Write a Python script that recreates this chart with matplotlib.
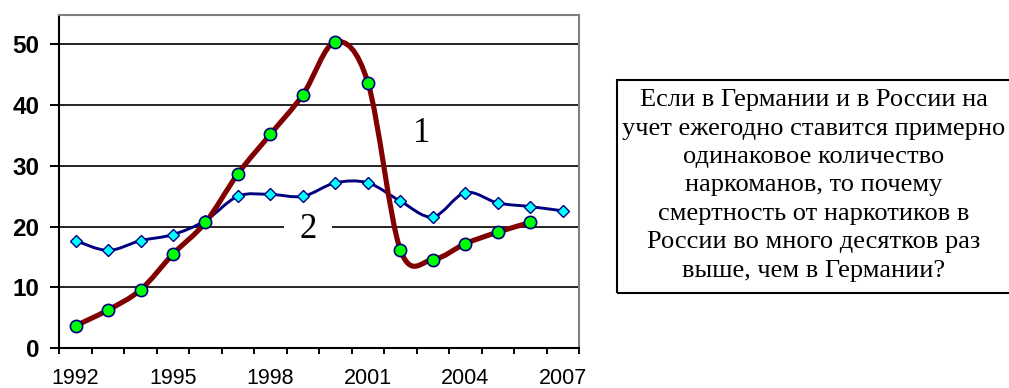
import numpy as np
import matplotlib
matplotlib.use('Agg')
import matplotlib.pyplot as plt
from matplotlib.path import Path
from matplotlib.patches import PathPatch, Rectangle

# годы и значения двух рядов
years = [str(y) for y in range(1992, 2008)]
russia = [3.7, 6.3, 9.6, 15.5, 20.7, 28.7, 35.2, 41.7, 50.4, 43.7, 16.2, 14.6, 17.2, 19.1, 20.7]
germany = [17.7, 16.1, 17.7, 18.7, 21.0, 25.0, 25.3, 25.0, 27.2, 27.2, 24.2, 21.6, 25.6, 23.9, 23.3, 22.6]
shown_years = ['1992', '1995', '1998', '2001', '2004', '2007']
y_ticks = [0, 10, 20, 30, 40, 50]

note_lines = [
    'Если в Германии и в России на',
    'учет ежегодно ставится примерно',
    'одинаковое количество',
    'наркоманов, то почему',
    'смертность от наркотиков в',
    'России во много десятков раз',
    'выше, чем в Германии?',
]

W, H = 1009, 388
SANS = ['Liberation Sans', 'DejaVu Sans']
SERIF = ['Liberation Serif', 'DejaVu Serif']


def smooth_path(xs, ys):
    # сглаженная линия как в Excel: кривые Безье через все точки
    pts = np.column_stack([xs, ys]).astype(float)
    n = len(pts)
    verts = [pts[0]]
    codes = [Path.MOVETO]
    for i in range(n - 1):
        p0 = pts[max(i - 1, 0)]
        p1 = pts[i]
        p2 = pts[i + 1]
        p3 = pts[min(i + 2, n - 1)]
        verts += [p1 + (p2 - p0) / 6, p2 - (p3 - p1) / 6, p2]
        codes += [Path.CURVE4] * 3
    return Path(verts, codes)


fig = plt.figure(figsize=(W / 100, H / 100), dpi=100)
ax = fig.add_axes([59.3 / W, 1 - 348.3 / H, (579 - 59.3) / W, (348.3 - 15) / H])

x_r = np.arange(len(russia))
x_g = np.arange(len(germany))

ax.add_patch(PathPatch(smooth_path(x_g, germany), fill=False, ec='#000080', lw=2.1,
                       joinstyle='round', capstyle='round', zorder=3))
ax.plot(x_g, germany, ls='none', marker='D', ms=6.3, mfc='#00ffff', mec='#000080',
        mew=1.0, zorder=4)

ax.add_patch(PathPatch(smooth_path(x_r, russia), fill=False, ec='#800000', lw=3.7,
                       joinstyle='round', capstyle='round', zorder=5))
ax.plot(x_r, russia, ls='none', marker='o', ms=8.8, mfc='#00ff00', mec='#000080',
        mew=1.2, zorder=6)

ax.set_xlim(-0.5, len(years) - 0.5)
ax.set_ylim(0, 54.8)

ax.set_xticks([years.index(y) for y in shown_years])
ax.set_xticklabels(shown_years, fontsize=15.5, family=SANS)
ax.set_xticks(np.arange(-0.5, len(years), 1), minor=True)
ax.tick_params(axis='x', which='major', length=0, pad=14)
ax.tick_params(axis='x', which='minor', length=4, width=1.4, direction='out', color='black')

ax.set_yticks(y_ticks)
ax.set_yticklabels([str(v) for v in y_ticks], fontsize=17.5, fontweight='bold', family=SANS)
ax.tick_params(axis='y', length=6.5, width=1.4, pad=8, color='black')

ax.set_axisbelow(True)
ax.yaxis.grid(True, color='black', lw=1.2)

for side in ['left', 'bottom']:
    ax.spines[side].set_color('black')
    ax.spines[side].set_linewidth(1.5)
for side in ['top', 'right']:
    ax.spines[side].set_color('#808080')
    ax.spines[side].set_linewidth(1.5)

# подписи рядов
ax.text(10.65, 34.0, '1', ha='center', va='baseline', fontsize=25, family=SERIF, zorder=2)
ax.text(7.15, 18.1, '2', ha='center', va='baseline', fontsize=25, family=SERIF, zorder=2,
        bbox=dict(boxstyle='square,pad=0.45', fc='white', ec='none'))

# рамка с вопросом справа
box_top, box_bottom = 80, 293
fig.add_artist(Rectangle((617 / W, 1 - box_bottom / H), (1015 - 617) / W, (box_bottom - box_top) / H,
                         transform=fig.transFigure, fill=False, ec='black', lw=1.5))
for i, line in enumerate(note_lines):
    fig.text(814 / W, 1 - (106 + 28.5 * i) / H, line, ha='center', va='baseline',
             fontsize=19, family=SERIF)

fig.savefig('out.png', dpi=100, facecolor='white')
